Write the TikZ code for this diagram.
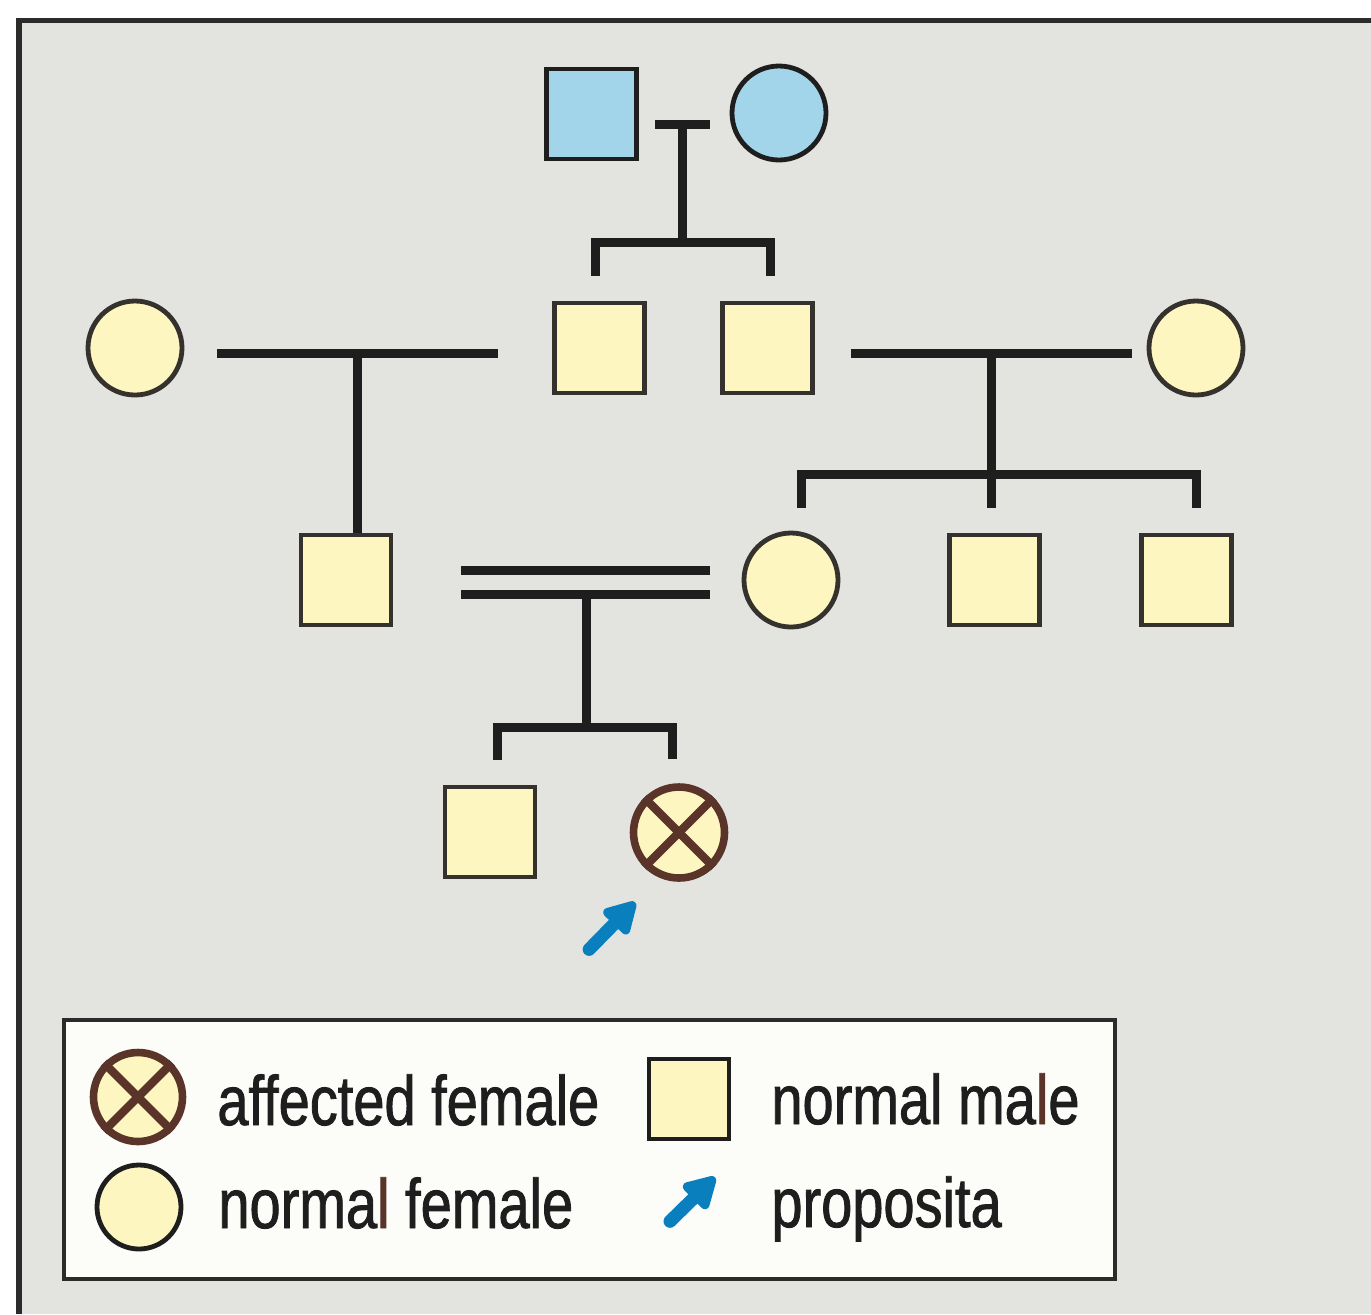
\documentclass[tikz,border=0pt]{standalone}
\usepackage{fontspec}
\setmainfont{Liberation Sans}[FakeStretch=0.80,FakeBold=1.2]
\usetikzlibrary{arrows.meta,calc}

\definecolor{panel}{HTML}{E3E3DF}
\definecolor{framec}{HTML}{2B2B2B}
\definecolor{ink}{HTML}{1E1E1E}
\definecolor{outline}{HTML}{35312C}
\definecolor{cream}{HTML}{FDF6C0}
\definecolor{skyfill}{HTML}{A2D4EA}
\definecolor{rust}{HTML}{5A3329}
\definecolor{pointblue}{HTML}{0A7FBD}
\definecolor{keyfill}{HTML}{FCFCF8}

\begin{document}
\begin{tikzpicture}[x=0.5pt,y=-0.5pt,
  male/.style={rectangle, draw=outline, line width=2.3pt, fill=#1,
    minimum size=45pt, inner sep=0pt},
  male/.default=cream,
  female/.style={circle, draw=outline, line width=2.4pt, fill=#1,
    minimum size=47pt, inner sep=0pt},
  female/.default=cream,
  affected/.style={circle, draw=rust, line width=3.8pt, fill=cream,
    minimum size=45.5pt, inner sep=0pt},
  cross/.style={draw=rust, line width=4.2pt},
  rel/.style={draw=ink, line width=4.5pt},
  pointer/.style={draw=pointblue, line width=6.5pt, line cap=round,
    -{Triangle[length=18pt,width=19pt,round]}},
  label/.style={anchor=base west, inner sep=0pt, text=ink,
    font=\fontsize{35}{40}\selectfont}
]
\useasboundingbox (0,0) rectangle (1371,1314);

% panel and its frame
\fill[white] (0,0) rectangle (1371,1314);
\fill[panel] (19,20.5) rectangle (1371,1314);
\draw[framec, line width=2.6pt] (19,1314) -- (19,20.5) -- (1371,20.5);

% generation I
\node[male=skyfill, draw=ink] (gf) at (591.5,114) {};
\node[female=skyfill, draw=ink] (gm) at (779,113) {};

% generation II
\node[female] (wL) at (135,348) {};
\node[male] (s1) at (599.5,348) {};
\node[male] (s2) at (767.5,348) {};
\node[female] (wR) at (1196,348) {};

% generation III
\node[male] (c1) at (346,580) {};
\node[female] (d) at (791,580) {};
\node[male] (c3) at (994.5,580) {};
\node[male] (c4) at (1186.5,580) {};

% generation IV
\node[male] (g1) at (490,832) {};
\node[affected] (p) at (679,832.5) {};
\draw[cross] (p.north west) -- (p.south east);
\draw[cross] (p.north east) -- (p.south west);

% generation I mating and sibship
\draw[rel] ($(gf.east)+(16,10)$) -- ($(gm.west)+(-20,11)$);
\coordinate (m1) at ($(gf.east)!0.5!(gm.west)+(-1.5,10.5)$);
\coordinate (t1) at ($(s1.north)+(-4.5,-58)$);
\draw[rel] (m1) -- (m1 |- t1);
\draw[rel] ($(s1.north)+(-4.5,-25)$) -- (t1) -| ($(s2.north)+(2.5,-25)$);

% left mating in generation II
\draw[rel] ($(wL.east)+(33,5)$) -- ($(s1.west)+(-54,5)$);
\coordinate (m2) at ($(wL.east)+(173,5)$);
\draw[rel] (m2) -- (m2 |- c1.north);

% right mating in generation II and sibship
\draw[rel] ($(s2.east)+(36,5)$) -- ($(wR.west)+(-15,5)$);
\coordinate (m3) at ($(s2.east)+(177,5)$);
\draw[rel] (m3) -- ($(m3 |- c3.north)+(0,-25)$);
\coordinate (t3) at ($(d.north)+(10,-56)$);
\draw[rel] ($(d.north)+(10,-23)$) -- (t3) -| ($(c4.north)+(9.5,-25)$);

% consanguineous mating in generation III and sibship
\draw[rel] ($(c1.east)+(68,-10)$) -- ($(d.west)+(-32,-10)$);
\draw[rel] ($(c1.east)+(68,14)$) -- ($(d.west)+(-32,14)$);
\coordinate (m4) at ($(c1.east)+(193,14)$);
\coordinate (t4) at ($(g1.north)+(7,-57)$);
\draw[rel] (m4) -- (m4 |- t4);
\draw[rel] ($(g1.north)+(7,-25)$) -- (t4) -| ($(p.north)+(-7,-24)$);

% proposita marker
\coordinate (pa) at ($(p.south west)+(-55,82)$);
\draw[pointer] (pa) -- ($(p.south west)+(-9,35)$);

% key
\draw[framec, line width=2pt, fill=keyfill] (64,1020) rectangle (1115,1279);
\node[affected, minimum size=44.5pt] (ka) at (138,1097) {};
\draw[cross] (ka.north west) -- (ka.south east);
\draw[cross] (ka.north east) -- (ka.south west);
\node[label] (ta) at (217,1125) {affected female};
\node[female, draw=ink, minimum size=42pt] (kf) at (139,1207) {};
\node[label] (tf) at (218,1228) {norma{\color{rust}l} female};
\node[male, draw=ink, minimum size=40pt] (km) at (689,1099) {};
\node[label] (tm) at (771,1124) {normal ma{\color{rust}l}e};
\coordinate (kp) at ($(km.south)+(-19,80)$);
\draw[pointer] (kp) -- ($(km.south)+(26,36)$);
\node[label] (tp) at (771,1227) {proposita};
\end{tikzpicture}
\end{document}
